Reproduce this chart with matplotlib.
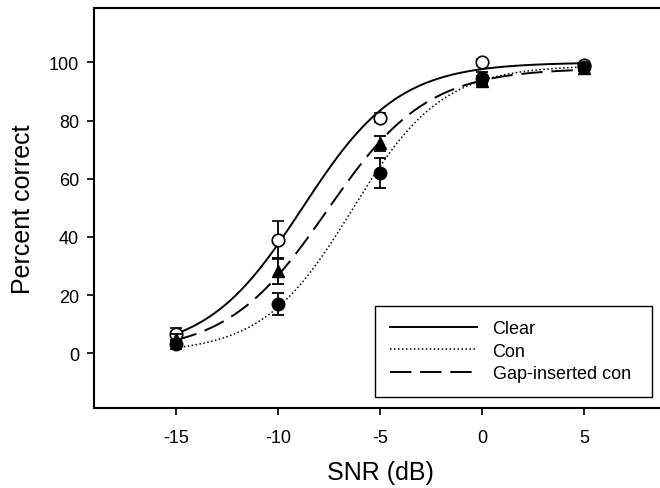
import numpy as np
import matplotlib
matplotlib.use("Agg")
import matplotlib.pyplot as plt

plt.rcParams['font.family'] = ['Liberation Sans', 'DejaVu Sans']
plt.rcParams['axes.unicode_minus'] = False

# SNR levels (dB)
snr = [-15, -10, -5, 0, 5]

# mean percent correct and error bars
clear_pc = [6.5, 39.0, 81.0, 100.0, 99.0]
clear_err = [2.2, 6.5, 1.5, 1.0, 0.8]
con_pc = [3.1, 16.9, 62.0, 94.8, 98.5]
con_err = [1.5, 3.8, 5.1, 2.0, 1.0]
gap_pc = [4.8, 28.3, 72.2, 93.7, 98.0]
gap_err = [2.0, 4.6, 2.6, 1.5, 1.0]

# sigmoid fit parameters (max, midpoint, slope) for each condition
clear_fit = [100.0, -8.8, 2.35]
con_fit = [99.0, -6.35, 2.2]
gap_fit = [98.0, -7.6, 2.45]

labels = ["Clear", "Con", "Gap-inserted con"]


def sigmoid(x, p):
    a, x0, b = p
    return a / (1 + np.exp(-(x - x0) / b))


fig = plt.figure(figsize=(6.6, 4.89), dpi=100)
ax = fig.add_axes([0.1429, 0.1636, 0.8656, 0.818])

xs = np.linspace(-15, 5, 300)
l1, = ax.plot(xs, sigmoid(xs, clear_fit), color='black', lw=1.4, zorder=2)
l2, = ax.plot(xs, sigmoid(xs, con_fit), color='black', lw=1.1,
              linestyle=(0, (1, 1.6)), zorder=2)
l3, = ax.plot(xs, sigmoid(xs, gap_fit), color='black', lw=1.4,
              linestyle=(0, (11, 4.5)), zorder=2)

# open circles underneath, filled symbols on top
ax.errorbar(snr, clear_pc, yerr=clear_err, fmt='o', color='black',
            mfc='white', mec='black', mew=1.2, ms=9,
            capsize=4.5, elinewidth=1.3, capthick=1.3, zorder=3)
ax.errorbar(snr, gap_pc, yerr=gap_err, fmt='^', color='black', ms=9,
            capsize=4.5, elinewidth=1.3, capthick=1.3, zorder=4)
ax.errorbar(snr, con_pc, yerr=con_err, fmt='o', color='black', ms=9,
            capsize=4.5, elinewidth=1.3, capthick=1.3, zorder=5)

ax.set_xlim(-19, 9)
ax.set_ylim(-18.8, 118.7)
ax.set_xticks(snr)
ax.set_yticks([0, 20, 40, 60, 80, 100])
ax.tick_params(direction='out', length=5, width=1.2, labelsize=13)
ax.tick_params(axis='x', pad=10)
ax.tick_params(axis='y', pad=6)
for s in ax.spines.values():
    s.set_linewidth(1.5)

ax.set_xlabel('SNR (dB)', fontsize=18, labelpad=10)
ax.set_ylabel('Percent correct', fontsize=18, labelpad=10)

leg = ax.legend([l1, l2, l3], labels, loc='lower left',
                bbox_to_anchor=(0.492, 0.0275, 0.485, 0.23), mode='expand',
                borderaxespad=0, fontsize=13, handlelength=4.8,
                handletextpad=0.87, labelspacing=0.3, borderpad=0.82,
                fancybox=False, framealpha=1, edgecolor='black')
leg.get_frame().set_linewidth(1.0)

fig.savefig('out.png', dpi=100)
